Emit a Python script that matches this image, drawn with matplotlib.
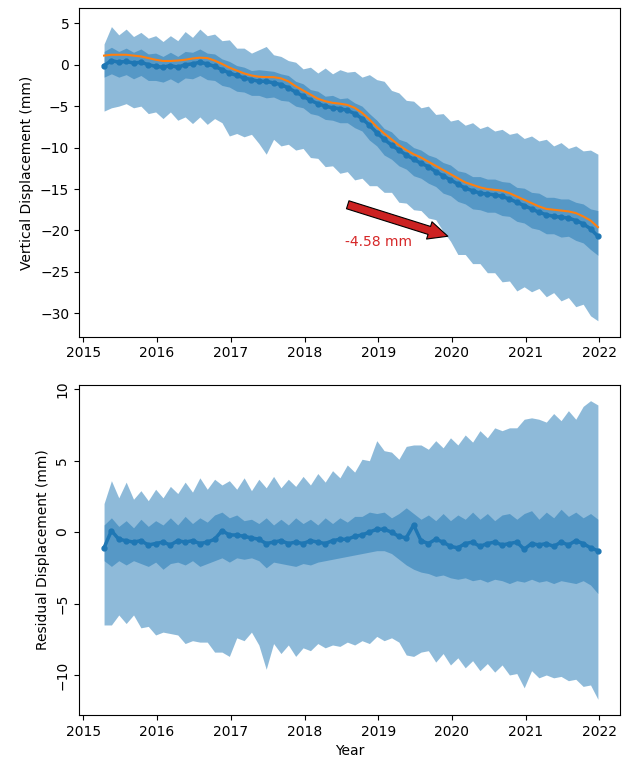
import matplotlib
matplotlib.use("Agg")
import matplotlib.pyplot as plt

years = [2015.28, 2015.38, 2015.48, 2015.58, 2015.68, 2015.78, 2015.88, 2015.98,
         2016.08, 2016.18, 2016.28, 2016.38, 2016.48, 2016.58, 2016.68, 2016.78,
         2016.88, 2016.98, 2017.08, 2017.18, 2017.28, 2017.38, 2017.48, 2017.58,
         2017.68, 2017.78, 2017.88, 2017.98, 2018.08, 2018.18, 2018.28, 2018.38,
         2018.48, 2018.58, 2018.68, 2018.78, 2018.88, 2018.98, 2019.08, 2019.18,
         2019.28, 2019.38, 2019.48, 2019.58, 2019.68, 2019.78, 2019.88, 2019.98,
         2020.08, 2020.18, 2020.28, 2020.38, 2020.48, 2020.58, 2020.68, 2020.78,
         2020.88, 2020.98, 2021.08, 2021.18, 2021.28, 2021.38, 2021.48, 2021.58,
         2021.68, 2021.78, 2021.88, 2021.98]

# ---- vertical displacement (top) ----
vert_trend = [1.1, 1.2, 1.2, 1.2, 1.1, 1.0, 0.8, 0.6, 0.45, 0.45, 0.5, 0.6, 0.75, 0.85, 0.8, 0.5,
              0.1, -0.35, -0.7, -1.05, -1.3, -1.45, -1.5, -1.5, -1.65, -2.0, -2.6, -3.1, -3.6, -4.1, -4.4, -4.6,
              -4.7, -4.85, -5.2, -5.8, -6.6, -7.5, -8.3, -9.0, -9.7, -10.3, -10.8, -11.2, -11.7, -12.2, -12.7, -13.2,
              -13.7, -14.2, -14.5, -14.8, -15.0, -15.1, -15.2, -15.5, -15.9, -16.3, -16.7, -17.1, -17.4, -17.5, -17.6, -17.7,
              -17.9, -18.3, -18.8, -19.6]
vert_mean = [-0.1, 0.5, 0.3, 0.4, 0.2, 0.3, 0.0, -0.2, -0.3, -0.1, -0.3, 0.0, 0.1, 0.3, 0.1, -0.2,
             -0.6, -1.0, -1.3, -1.6, -1.8, -2.0, -2.0, -2.2, -2.4, -2.8, -3.3, -3.8, -4.3, -4.7, -5.0, -5.2,
             -5.3, -5.5, -5.9, -6.5, -7.3, -8.2, -9.0, -9.7, -10.3, -10.9, -11.4, -11.9, -12.3, -12.9, -13.4, -13.9,
             -14.4, -14.9, -15.2, -15.5, -15.6, -15.7, -15.9, -16.2, -16.6, -17.0, -17.4, -17.8, -18.1, -18.3, -18.4, -18.5,
             -18.8, -19.2, -19.8, -20.7]
vert_inner_hi = [1.6, 2.1, 1.6, 2.0, 1.5, 1.9, 1.3, 1.4, 1.0, 1.5, 1.0, 1.6, 1.5, 1.9, 1.4, 1.3,
                 0.7, 0.4, -0.1, -0.3, -0.7, -0.6, -0.7, -0.8, -1.1, -1.3, -2.0, -2.3, -3.0, -3.2, -3.8, -3.7,
                 -4.1, -4.0, -4.6, -5.0, -5.9, -6.7, -7.7, -8.1, -9.0, -9.3, -10.0, -10.3, -10.9, -11.2, -11.8, -12.1,
                 -12.8, -13.0, -13.5, -13.5, -13.8, -13.8, -14.1, -14.2, -14.8, -14.9, -15.4, -15.5, -16.0, -16.0, -16.2, -16.2,
                 -16.6, -16.8, -17.4, -17.6]
vert_inner_lo = [-1.5, -1.1, -1.5, -1.2, -1.7, -1.3, -1.9, -1.9, -2.1, -1.7, -2.2, -1.6, -1.7, -1.3, -1.8, -1.9,
                 -2.5, -2.7, -3.2, -3.3, -3.7, -3.7, -4.0, -3.9, -4.3, -4.4, -5.0, -5.2, -5.9, -6.1, -6.6, -6.7,
                 -7.0, -7.0, -7.6, -8.0, -9.1, -9.8, -10.9, -11.4, -12.2, -12.6, -13.4, -13.7, -14.3, -14.7, -15.5, -15.8,
                 -16.5, -16.8, -17.4, -17.5, -17.8, -17.8, -18.2, -18.3, -18.9, -19.1, -19.7, -19.9, -20.4, -20.4, -20.8, -20.7,
                 -21.2, -21.5, -22.3, -23.0]
vert_outer_hi = [2.5, 4.6, 3.6, 4.3, 3.4, 3.9, 3.2, 3.5, 2.8, 3.5, 2.9, 4.0, 3.3, 4.3, 3.5, 3.7,
                 2.9, 3.0, 2.0, 2.0, 1.4, 1.8, 2.2, 1.2, 1.0, 0.5, 0.3, -0.5, -0.3, -1.0, -0.4, -1.1,
                 -0.6, -0.9, -0.8, -1.5, -1.2, -1.8, -2.0, -3.1, -3.4, -4.3, -4.4, -5.2, -5.0, -6.0, -5.9, -6.8,
                 -6.6, -7.3, -7.0, -7.7, -7.4, -8.0, -7.8, -8.4, -8.2, -8.9, -8.6, -9.2, -9.0, -9.8, -9.4, -10.1,
                 -9.8, -10.4, -10.3, -10.8]
vert_outer_lo = [-5.6, -5.2, -5.0, -4.7, -5.2, -5.0, -5.9, -5.7, -6.5, -5.7, -6.7, -6.3, -7.1, -6.3, -7.2, -6.5,
                 -7.0, -8.6, -8.3, -8.7, -8.4, -9.5, -10.8, -9.0, -9.8, -9.6, -10.3, -10.1, -11.2, -11.3, -12.3, -12.2,
                 -13.1, -12.9, -13.9, -13.7, -14.6, -14.6, -15.4, -15.4, -16.6, -16.7, -17.5, -17.6, -18.5, -18.7, -20.1, -21.3,
                 -22.9, -22.9, -24.0, -24.0, -25.1, -25.1, -26.2, -26.1, -27.3, -26.8, -27.4, -27.0, -28.0, -27.5, -28.5, -28.1,
                 -29.2, -28.9, -30.3, -30.9]

# ---- residual displacement (bottom) ----
res_mean = [-1.1, 0.1, -0.5, -0.6, -0.7, -0.6, -0.9, -0.8, -0.7, -0.9, -0.6, -0.7, -0.6, -0.8, -0.7, -0.5,
            0.1, -0.2, -0.2, -0.3, -0.4, -0.5, -0.8, -0.7, -0.6, -0.8, -0.7, -0.8, -0.6, -0.7, -0.8, -0.6,
            -0.5, -0.5, -0.3, -0.2, 0.0, 0.2, 0.2, 0.0, -0.3, -0.4, 0.5, -0.6, -0.8, -0.5, -0.7, -1.0,
            -1.1, -0.8, -0.7, -1.0, -0.8, -0.7, -0.9, -0.8, -0.7, -1.2, -0.8, -0.9, -0.8, -1.0, -0.7, -0.9,
            -0.6, -0.8, -1.1, -1.3]
res_inner_hi = [0.5, 1.0, 0.4, 0.8, 0.3, 0.9, 0.4, 0.8, 0.5, 1.0, 0.5, 1.1, 0.6, 1.0, 0.7, 1.2,
                1.4, 1.0, 1.2, 0.8, 0.9, 0.6, 1.0, 0.5, 0.9, 0.5, 1.0, 0.6, 0.9, 0.5, 1.0, 0.6,
                1.0, 0.7, 1.1, 1.1, 1.4, 1.3, 1.4, 1.0, 1.3, 1.7, 1.3, 0.9, 1.2, 0.8, 1.3, 0.8,
                1.2, 0.9, 1.4, 0.9, 1.3, 0.8, 1.2, 1.3, 0.9, 1.3, 1.5, 0.9, 1.4, 1.0, 1.6, 1.1,
                1.4, 1.0, 1.3, 0.9]
res_inner_lo = [-2.0, -2.4, -2.0, -2.3, -2.0, -2.2, -2.4, -2.1, -2.6, -2.2, -2.1, -2.3, -2.0, -2.4, -2.2, -2.0,
                -1.8, -2.1, -1.8, -1.9, -1.8, -2.0, -2.5, -2.1, -2.2, -2.3, -2.4, -2.2, -2.3, -2.1, -2.0, -1.9,
                -1.8, -1.7, -1.6, -1.5, -1.4, -1.3, -1.3, -1.5, -1.9, -2.3, -2.6, -2.8, -2.9, -3.1, -3.0, -3.2,
                -3.3, -3.2, -3.4, -3.3, -3.5, -3.3, -3.4, -3.6, -3.4, -3.5, -3.3, -3.5, -3.4, -3.6, -3.4, -3.5,
                -3.6, -3.4, -3.7, -4.3]
res_outer_hi = [2.0, 3.6, 2.4, 3.5, 2.3, 2.9, 2.2, 3.0, 2.4, 3.2, 2.7, 3.5, 2.8, 3.8, 3.0, 3.7,
                3.3, 3.6, 3.0, 3.8, 2.9, 3.7, 3.1, 3.9, 3.1, 3.7, 3.2, 3.9, 3.3, 4.1, 3.5, 4.3,
                3.8, 4.7, 4.2, 5.1, 5.0, 6.4, 5.7, 5.6, 5.1, 6.0, 6.1, 6.1, 5.8, 6.4, 5.9, 6.6,
                6.1, 6.8, 6.3, 7.1, 6.6, 7.3, 7.1, 7.3, 7.3, 7.9, 8.0, 7.9, 7.7, 8.3, 7.8, 8.5,
                7.9, 8.8, 9.2, 8.9]
res_outer_lo = [-6.5, -6.5, -5.8, -6.4, -5.8, -6.7, -6.6, -7.2, -7.0, -7.1, -7.2, -7.8, -7.6, -7.7, -7.7, -8.4,
                -8.4, -8.7, -7.4, -7.6, -7.0, -7.9, -9.6, -7.8, -8.5, -7.9, -8.7, -8.1, -8.3, -7.8, -8.1, -7.9,
                -8.0, -7.7, -7.9, -7.6, -7.8, -7.3, -7.6, -7.4, -7.7, -8.6, -8.7, -8.4, -8.3, -9.1, -8.5, -9.3,
                -8.8, -9.5, -9.0, -9.7, -9.2, -9.8, -9.3, -10.0, -9.9, -10.9, -9.7, -10.2, -10.0, -10.2, -10.1, -10.4,
                -10.3, -10.8, -10.7, -11.7]

xticks = [2015, 2016, 2017, 2018, 2019, 2020, 2021, 2022]
arrow_text = "-4.58 mm"

plt.rcParams['font.family'] = ['DejaVu Sans']
plt.rcParams['font.size'] = 10

fig = plt.figure(figsize=(6.22, 7.59), dpi=100)
ax1 = fig.add_axes([0.1270, 0.5564, 0.8698, 0.4327])
ax2 = fig.add_axes([0.1270, 0.0580, 0.8698, 0.4348])

blue = 'tab:blue'

# top
ax1.fill_between(years, vert_outer_lo, vert_outer_hi, color=blue, alpha=0.5, lw=0)
ax1.fill_between(years, vert_inner_lo, vert_inner_hi, color=blue, alpha=0.5, lw=0)
ax1.plot(years, vert_mean, 'o-', color=blue, ms=3.5, lw=2.5)
ax1.plot(years, vert_trend, color='tab:orange', lw=1.5)
ax1.annotate('', xy=(2019.98, -20.8), xytext=(2018.55, -16.8),
             arrowprops=dict(arrowstyle='simple,head_length=1.4,head_width=1.3,tail_width=0.6',
                             fc='#cc2222', ec='black', lw=0.8))
ax1.text(2019.0, -21.4, arrow_text, color='tab:red', ha='center', va='center', fontsize=10)
ax1.set_xlim(2014.94, 2022.28)
ax1.set_ylim(-32.82, 6.81)
ax1.set_xticks(xticks)
ax1.set_xticklabels([str(y) for y in xticks])
ax1.set_yticks([5, 0, -5, -10, -15, -20, -25, -30])
ax1.set_ylabel('Vertical Displacement (mm)')

# bottom
ax2.fill_between(years, res_outer_lo, res_outer_hi, color=blue, alpha=0.5, lw=0)
ax2.fill_between(years, res_inner_lo, res_inner_hi, color=blue, alpha=0.5, lw=0)
ax2.plot(years, res_mean, 'o-', color=blue, ms=3.5, lw=2.5)
ax2.set_xlim(2014.94, 2022.28)
ax2.set_ylim(-12.8, 10.3)
ax2.set_xticks(xticks)
ax2.set_xticklabels([str(y) for y in xticks])
ax2.set_yticks([10, 5, 0, -5, -10])
ax2.tick_params(axis='y', labelrotation=90)
for lab in ax2.get_yticklabels():
    lab.set_va('center')
ax2.set_ylabel('Residual Displacement (mm)')
ax2.set_xlabel('Year')

fig.savefig('out.png', dpi=100)
